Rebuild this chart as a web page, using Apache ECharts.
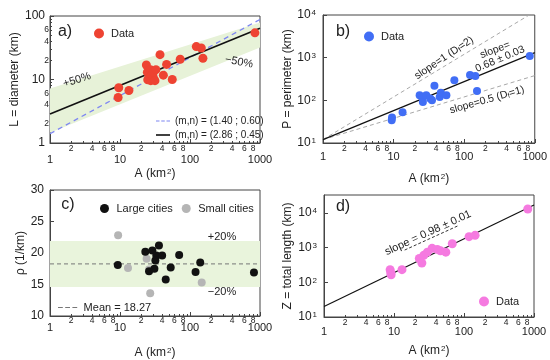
<!DOCTYPE html>
<html><head><meta charset="utf-8">
<script src="https://cdn.jsdelivr.net/npm/echarts@6/dist/echarts.min.js"></script>
<style>html,body{margin:0;padding:0;background:#fff}#c{width:550px;height:360px}</style>
</head><body><div id="c"></div>
<script>
// ---------- tick labels ----------
const decadeX = [1, 10, 100, 1000];
const minorTickX = [2,3,4,5,6,7,8,9,20,30,40,50,60,70,80,90,200,300,400,500,600,700,800,900];
const minorLabelX = [2,4,6,8,20,40,60,80,200,400,600,800];
const decadeYa = [1, 10, 100];
const minorTickYa = [2,3,4,5,6,7,8,9,20,30,40,50,60,70,80,90];
const minorLabelYa = [2,4,6,20,40,60];
const decadeYb = [10, 100, 1000, 10000];
const decadeYd = [10, 100, 1000, 10000];

// ---------- panel a: diameter ----------
const aArea = [9.4, 9.6, 13.4, 23.8, 24.6, 24.9, 27.2, 27.5, 28, 30, 30, 31.6, 32.6, 37.3, 41.6, 46.3, 55.8, 72.5, 123, 145, 153, 846];
const aDiam = [5.2, 7.4, 6.7, 16.9, 13, 9.9, 14.3, 9.6, 11.5, 10.7, 13, 9.6, 14.3, 24.6, 11.7, 17.3, 10, 20.8, 33, 31.3, 21.6, 54.3];
const aFitX = [1, 1000];
const aFitSolid = [2.86, 63.9];   // (m,n) = (2.86 ; 0.45)
const aFitDash = [1.40, 88.3];    // (m,n) = (1.40 ; 0.60)
const aBandX = [1, 1000];
const aBandUpper = [7.2, 79];
const aBandLower = [1.45, 32];

// ---------- panel b: perimeter ----------
const bArea = [9.4, 9.5, 13.4, 23.4, 25.4, 26, 29, 33, 35, 37.9, 45, 46.7, 56, 72.6, 121, 144, 152, 850];
const bPerim = [34, 39.5, 52.5, 132, 120, 92, 132, 110, 100, 220, 120, 150, 132, 295, 395, 374, 166, 1100];
const bLineX = [1, 1000];
const bSlope1 = [12, 12000];
const bSlope068 = [12, 1310];
const bSlope05 = [12, 380];

// ---------- panel c: rho ----------
const cLargeArea = [9.3, 23, 29, 36, 33, 40, 32, 31, 26, 53, 45, 70, 120, 140, 820];
const cLargeRho = [18.1, 20.2, 20.4, 21.2, 19.6, 19.6, 18.8, 17.5, 17.1, 17.7, 15.8, 19.7, 17.0, 18.5, 16.9];
const cSmallArea = [9.4, 13, 24, 26, 27, 147];
const cSmallRho = [22.8, 17.6, 19.1, 17.4, 13.6, 15.3];
const cMeanX = [1, 1000];
const cMean = 18.27;
const cBand = [14.62, 21.92];

// ---------- panel d: total length ----------
const dArea = [8.8, 9, 9.1, 13, 23, 25, 26.6, 30, 35, 41.6, 46, 55, 68, 118, 144, 815];
const dLength = [230, 190, 165, 232, 485, 362, 600, 740, 955, 890, 815, 740, 1300, 2075, 2265, 13000];
const dFitX = [1, 1000];
const dFit = [20, 17000];
const dSlopeX = [14.2, 80.5];
const dSlopeY = [853, 4190];

const FONT = 'Liberation Sans';
const TXT = '#222';
const AX = '#444';
const DASH_ICON = 'path://M0,0h4v1h-4z M6,0h4v1h-4z M12,0h4v1h-4z';
const pair = (xs, ys) => xs.map((x, i) => [x, ys[i]]);
const supRich = { sup: { fontSize: 8, verticalAlign: 'top', fontFamily: FONT, color: TXT, padding: [0, 0, 0, 1] } };

function xMain(g, margin, gap) {
  return {
    type: 'log', logBase: 10, gridIndex: g, min: 1, max: 1000, position: 'bottom',
    axisLine: { show: true, lineStyle: { color: AX } },
    axisTick: { show: true, inside: true, length: 4, customValues: decadeX, lineStyle: { color: AX } },
    axisLabel: { customValues: decadeX, margin: margin, fontSize: 11, fontFamily: FONT, color: TXT,
      formatter: v => String(Math.round(v)) },
    splitLine: { show: false },
    name: 'A (km{sup|2})', nameLocation: 'middle', nameGap: gap,
    nameTextStyle: { fontSize: 12, fontFamily: FONT, color: TXT, rich: supRich }
  };
}
function xMinor(g, margin) {
  return {
    type: 'log', logBase: 10, gridIndex: g, min: 1, max: 1000, position: 'bottom',
    axisLine: { show: false },
    axisTick: { show: true, inside: true, length: 2, customValues: minorTickX, lineStyle: { color: AX } },
    axisLabel: { customValues: minorLabelX, margin: margin, fontSize: 8.5, fontFamily: FONT, color: TXT,
      formatter: v => String(Math.round(v)).charAt(0) },
    splitLine: { show: false }
  };
}
function yName(name, gap) {
  return { name: name, nameLocation: 'middle', nameGap: gap,
    nameTextStyle: { fontSize: 12, fontFamily: FONT, color: TXT } };
}
const powFmt = v => '10{sup|' + Math.round(Math.log10(v)) + '}';
function label(x, y, text, opts) {
  return Object.assign({ type: 'text', x: x, y: y, z: 100,
    style: Object.assign({ text: text, fontSize: 11, fontFamily: FONT, fill: TXT, align: 'center', verticalAlign: 'middle',
      rich: { sub: { fontSize: 7, verticalAlign: 'bottom', fontFamily: FONT, fill: TXT } } }, (opts && opts.style) || {}) },
    (opts && opts.rotation !== undefined) ? { rotation: opts.rotation } : {});
}

const option = {
  animation: false,
  backgroundColor: '#fff',
  grid: [
    { left: 50, top: 16, width: 210, height: 127, show: true, borderColor: AX, borderWidth: 1 },
    { left: 323, top: 15, width: 212, height: 128, show: true, borderColor: AX, borderWidth: 1 },
    { left: 50, top: 190, width: 210, height: 126, show: true, borderColor: AX, borderWidth: 1 },
    { left: 324, top: 195, width: 210, height: 122, show: true, borderColor: AX, borderWidth: 1 }
  ],
  xAxis: [
    xMain(0, 11, 25), xMinor(0, 1),
    xMain(1, 8, 30), xMinor(1, 1),
    xMain(2, 6, 31), xMinor(2, 0),
    xMain(3, 9, 28), xMinor(3, 1)
  ],
  yAxis: [
    Object.assign({
      type: 'log', logBase: 10, gridIndex: 0, min: 1, max: 100, position: 'left',
      axisLine: { show: true, lineStyle: { color: AX } },
      axisTick: { show: true, inside: true, length: 4, customValues: decadeYa, lineStyle: { color: AX } },
      axisLabel: { customValues: decadeYa, margin: 5, fontSize: 12, fontFamily: FONT, color: TXT, formatter: v => String(Math.round(v)) },
      splitLine: { show: false }
    }, yName('L = diameter (km)', 24)),
    {
      type: 'log', logBase: 10, gridIndex: 0, min: 1, max: 100, position: 'left',
      axisLine: { show: false },
      axisTick: { show: true, inside: true, length: 2, customValues: minorTickYa, lineStyle: { color: AX } },
      axisLabel: { customValues: minorLabelYa, margin: 1, fontSize: 8.5, fontFamily: FONT, color: TXT, formatter: v => String(Math.round(v)).charAt(0) },
      splitLine: { show: false }
    },
    Object.assign({
      type: 'log', logBase: 10, gridIndex: 1, min: 10, max: 10000, position: 'left',
      axisLine: { show: true, lineStyle: { color: AX } },
      axisTick: { show: true, inside: true, length: 4, customValues: decadeYb, lineStyle: { color: AX } },
      axisLabel: { customValues: decadeYb, margin: 7, fontSize: 12, fontFamily: FONT, color: TXT, formatter: powFmt, rich: supRich },
      splitLine: { show: false }
    }, yName('P = perimeter (km)', 21)),
    Object.assign({
      type: 'value', gridIndex: 2, min: 10, max: 30, interval: 5, position: 'left',
      axisLine: { show: true, lineStyle: { color: AX } },
      axisTick: { show: true, inside: true, length: 4, lineStyle: { color: AX } },
      axisLabel: { margin: 6, fontSize: 12, fontFamily: FONT, color: TXT },
      splitLine: { show: false }
    }, yName('ρ (1/km)', 22)),
    Object.assign({
      type: 'log', logBase: 10, gridIndex: 3, min: 10, max: 33000, position: 'left',
      axisLine: { show: true, lineStyle: { color: AX } },
      axisTick: { show: true, inside: true, length: 4, customValues: decadeYd, lineStyle: { color: AX } },
      axisLabel: { customValues: decadeYd, margin: 7, fontSize: 12, fontFamily: FONT, color: TXT, formatter: powFmt, rich: supRich },
      splitLine: { show: false }
    }, yName('Z = total length (km)', 30))
  ],
  legend: [
    { data: ['Data a'], formatter: () => 'Data', left: 89, top: 23, icon: 'circle', itemWidth: 14, itemHeight: 10,
      textStyle: { fontSize: 11, fontFamily: FONT, color: TXT } },
    { data: [{ name: '(m,n) = (1.40 ; 0.60)', icon: DASH_ICON }, { name: '(m,n) = (2.86 ; 0.45)', icon: 'rect' }],
      orient: 'vertical', left: 151, top: 111, itemGap: 4,
      itemWidth: 14, itemHeight: 1.6, textStyle: { fontSize: 10, fontFamily: FONT, color: TXT } },
    { data: ['Data b'], formatter: () => 'Data', left: 359, top: 26, icon: 'circle', itemWidth: 14, itemHeight: 10,
      textStyle: { fontSize: 11, fontFamily: FONT, color: TXT } },
    { data: ['Large cities', 'Small cities'], left: 95, top: 198, icon: 'circle', itemWidth: 14, itemHeight: 9, itemGap: 9,
      textStyle: { fontSize: 11, fontFamily: FONT, color: TXT } },
    { data: [{ name: 'Mean = 18.27', icon: DASH_ICON }], left: 53, top: 297, itemWidth: 22, itemHeight: 1.2,
      textStyle: { fontSize: 11, fontFamily: FONT, color: TXT } },
    { data: ['Data d'], formatter: () => 'Data', left: 474, top: 291, icon: 'circle', itemWidth: 14, itemHeight: 10,
      textStyle: { fontSize: 11, fontFamily: FONT, color: TXT } }
  ],
  series: [
    // panel a
    { type: 'custom', xAxisIndex: 0, yAxisIndex: 0, z: 1, silent: true, data: [[1, 1]],
      renderItem: (params, api) => {
        const pts = [];
        for (let i = 0; i < aBandX.length; i++) pts.push(api.coord([aBandX[i], aBandUpper[i]]));
        for (let i = aBandX.length - 1; i >= 0; i--) pts.push(api.coord([aBandX[i], aBandLower[i]]));
        return { type: 'polygon', shape: { points: pts }, style: { fill: '#e7f2d8' } };
      } },
    { name: '(m,n) = (1.40 ; 0.60)', type: 'line', xAxisIndex: 0, yAxisIndex: 0, symbol: 'none', z: 3,
      data: pair(aFitX, aFitDash), lineStyle: { color: '#7d86f2', width: 1.3, type: [5, 4] }, itemStyle: { color: '#7d86f2' } },
    { name: '(m,n) = (2.86 ; 0.45)', type: 'line', xAxisIndex: 0, yAxisIndex: 0, symbol: 'none', z: 3,
      data: pair(aFitX, aFitSolid), lineStyle: { color: '#111', width: 1.6 }, itemStyle: { color: '#111' } },
    { name: 'Data a', type: 'scatter', xAxisIndex: 0, yAxisIndex: 0, symbolSize: 9, z: 4,
      data: pair(aArea, aDiam), itemStyle: { color: '#ee4332', opacity: 1 } },
    // panel b
    { type: 'line', xAxisIndex: 2, yAxisIndex: 2, symbol: 'none', data: pair(bLineX, bSlope1),
      lineStyle: { color: '#a8a8a8', width: 1, type: [4, 3] } },
    { type: 'line', xAxisIndex: 2, yAxisIndex: 2, symbol: 'none', data: pair(bLineX, bSlope05),
      lineStyle: { color: '#a8a8a8', width: 1, type: [4, 3] } },
    { type: 'line', xAxisIndex: 2, yAxisIndex: 2, symbol: 'none', data: pair(bLineX, bSlope068),
      lineStyle: { color: '#111', width: 1.2 } },
    { name: 'Data b', type: 'scatter', xAxisIndex: 2, yAxisIndex: 2, symbolSize: 8, z: 4,
      data: pair(bArea, bPerim), itemStyle: { color: '#416ef5', opacity: 1 } },
    // panel c
    { name: 'Mean = 18.27', type: 'line', xAxisIndex: 4, yAxisIndex: 3, symbol: 'none', z: 2,
      data: cMeanX.map(x => [x, cMean]), lineStyle: { color: '#777', width: 1, type: [4, 3] }, itemStyle: { color: '#777' },
      markArea: { silent: true, itemStyle: { color: '#e9f4dc' }, data: [[{ yAxis: cBand[0] }, { yAxis: cBand[1] }]] } },
    { name: 'Small cities', type: 'scatter', xAxisIndex: 4, yAxisIndex: 3, symbolSize: 8, z: 4,
      data: pair(cSmallArea, cSmallRho), itemStyle: { color: '#b5b5b5', opacity: 1 } },
    { name: 'Large cities', type: 'scatter', xAxisIndex: 4, yAxisIndex: 3, symbolSize: 8, z: 5,
      data: pair(cLargeArea, cLargeRho), itemStyle: { color: '#111', opacity: 1 } },
    // panel d
    { type: 'line', xAxisIndex: 6, yAxisIndex: 4, symbol: 'none', data: pair(dFitX, dFit),
      lineStyle: { color: '#111', width: 1.2 } },
    { type: 'line', xAxisIndex: 6, yAxisIndex: 4, symbol: 'none', data: pair(dSlopeX, dSlopeY),
      lineStyle: { color: '#333', width: 1, type: [3, 2] } },
    { name: 'Data d', type: 'scatter', xAxisIndex: 6, yAxisIndex: 4, symbolSize: 9, z: 4,
      data: pair(dArea, dLength), itemStyle: { color: '#f57ae0', opacity: 1 } }
  ],
  graphic: [
    label(65, 32, 'a)', { style: { fontSize: 16 } }),
    label(343, 32, 'b)', { style: { fontSize: 16 } }),
    label(68, 205, 'c)', { style: { fontSize: 16 } }),
    label(343, 207, 'd)', { style: { fontSize: 16 } }),
    label(77, 80, '+50%', { rotation: 0.3 }),
    label(239, 62, '−50%', { rotation: -0.2 }),
    label(222, 237, '+20%'),
    label(222, 292, '−20%'),
    label(444, 58, 'slope=1 (D{sub|f}=2)', { rotation: 0.59, style: { fontSize: 10.5 } }),
    label(495, 50, 'slope=', { rotation: 0.36, style: { fontSize: 10.5 } }),
    label(500, 59, '0.68 ± 0.03', { rotation: 0.4, style: { fontSize: 10.5 } }),
    label(487, 100, 'slope=0.5 (D{sub|f}=1)', { rotation: 0.28, style: { fontSize: 10.5 } }),
    label(428, 233, 'slope = 0.98 ± 0.01', { rotation: 0.43 })
  ]
};
const chart = echarts.init(document.getElementById('c'), null, { renderer: 'canvas' });
chart.setOption(option);
</script>
</body></html>
